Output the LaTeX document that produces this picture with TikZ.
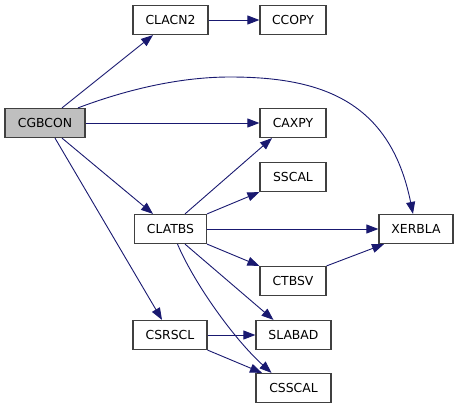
\documentclass[tikz,border=0pt]{standalone}
\usepackage{fontspec}
\setmainfont{DejaVu Sans}
\usetikzlibrary{arrows.meta}
\definecolor{edgec}{RGB}{25,25,112}
\definecolor{boxc}{RGB}{64,64,64}
\definecolor{rootc}{RGB}{191,191,191}
\tikzset{
  fn/.style={draw=boxc, line width=1.2pt, fill=white, minimum height=29pt, inner sep=0pt,
    font=\fontsize{12.4pt}{14pt}\selectfont},
  call/.style={draw=edgec, line width=0.9pt, -{Triangle[length=12pt,width=9pt]}}
}
\begin{document}
\begin{tikzpicture}[x=1pt,y=-1pt]
\useasboundingbox (0,0) rectangle (459,408);
\node[fn, fill=rootc, minimum width=80pt] (cgbcon) at (45,123) {CGBCON};
\node[fn, minimum width=75pt] (clacn2) at (170.5,20) {CLACN2};
\node[fn, minimum width=66pt] (ccopy) at (293,20) {CCOPY};
\node[fn, minimum width=66pt] (caxpy) at (293,123) {CAXPY};
\node[fn, minimum width=66pt] (sscal) at (293,177) {SSCAL};
\node[fn, minimum width=72pt] (clatbs) at (170.5,229) {CLATBS};
\node[fn, minimum width=74pt] (xerbla) at (416,229) {XERBLA};
\node[fn, minimum width=66pt] (ctbsv) at (293,281) {CTBSV};
\node[fn, minimum width=74pt] (csrscl) at (170,335) {CSRSCL};
\node[fn, minimum width=75pt] (slabad) at (293.5,335) {SLABAD};
\node[fn, minimum width=75pt] (csscal) at (293.5,388) {CSSCAL};

\draw[call] ([xshift=17pt]cgbcon.north) -- ([xshift=-17.5pt]clacn2.south);
\draw[call] (clacn2.east) -- (ccopy.west);
\draw[call] ([xshift=33pt]cgbcon.north) .. controls (120,92) and (175,77) .. (230,77)
  .. controls (320,77) and (390,100) .. ([xshift=-3pt]xerbla.north);
\draw[call] (cgbcon.east) -- (caxpy.west);
\draw[call] ([xshift=17pt]cgbcon.south) -- ([xshift=-17.5pt]clatbs.north);
\draw[call] ([xshift=10pt]cgbcon.south) -- ([xshift=-8pt]csrscl.north);
\draw[call] ([xshift=14.5pt]clatbs.north) -- ([xshift=-21pt]caxpy.south);
\draw[call] (clatbs.north east) -- (sscal.south west);
\draw[call] (clatbs.east) -- (xerbla.west);
\draw[call] (clatbs.south east) -- (ctbsv.north west);
\draw[call] (ctbsv.north east) -- ([xshift=-32pt]xerbla.south);
\draw[call] ([xshift=14.5pt]clatbs.south) -- ([xshift=-20pt]slabad.north);
\draw[call] ([xshift=7pt]clatbs.south) .. controls (195,285) and (235,340) .. ([xshift=-22pt]csscal.north);
\draw[call] (csrscl.east) -- (slabad.west);
\draw[call] (csrscl.south east) -- ([xshift=-31.5pt]csscal.north);
\end{tikzpicture}
\end{document}
